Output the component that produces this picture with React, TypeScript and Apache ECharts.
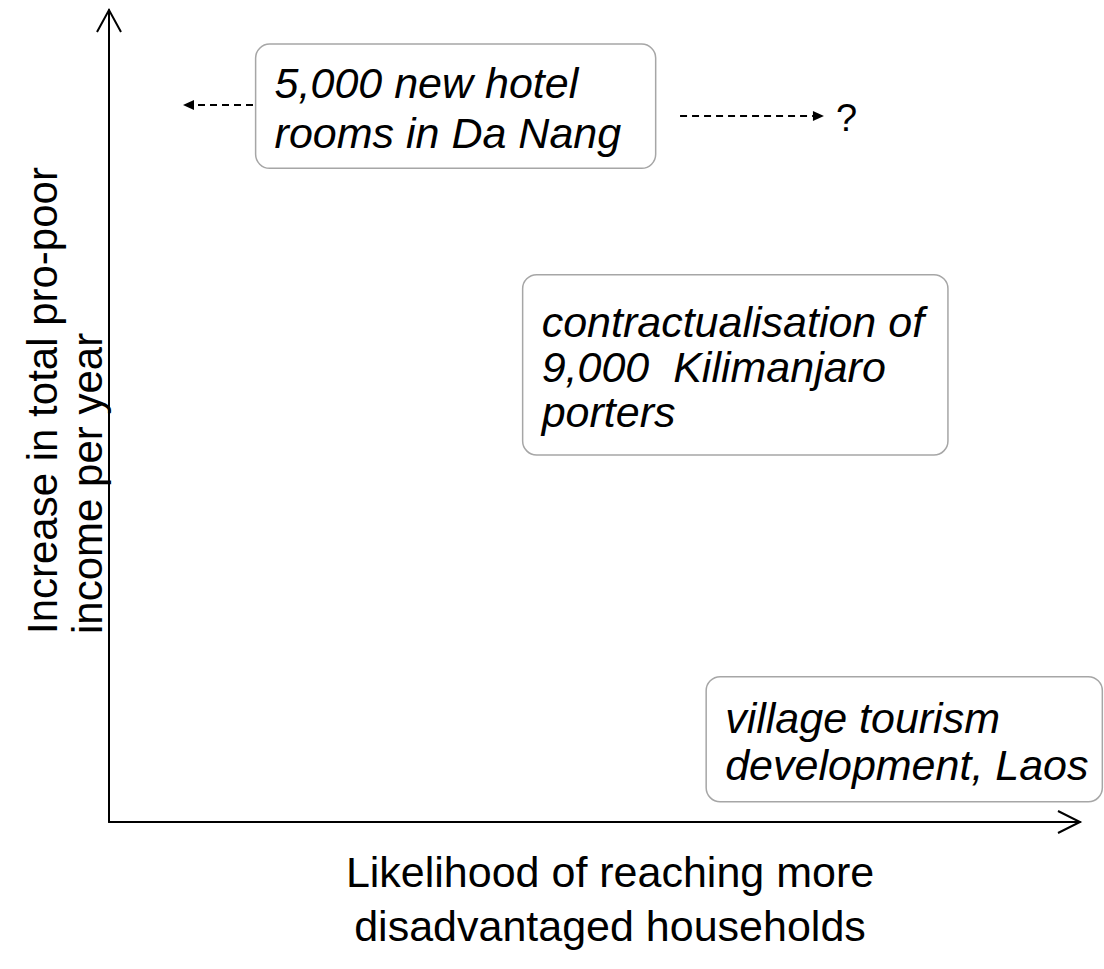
import React, { useEffect, useRef } from "react";
import * as echarts from "echarts";

// ---- data (concept-space values, 0..100 on both axes) ----
const boxLabels = [
  "5,000 new hotel\nrooms in Da Nang",
  "contractualisation of\n9,000  Kilimanjaro\nporters",
  "village tourism\ndevelopment, Laos",
];
const boxLeft = [15.1, 42.6, 61.5];
const boxRight = [56.3, 86.4, 102.3];
const boxTop = [95.8, 67.4, 17.9];
const boxBottom = [80.5, 45.2, 2.5];

const arrowFrom = [14.83, 58.81];
const arrowTo = [7.62, 73.63];
const arrowY = [88.3, 86.95];
const arrowEndLabel = ["", "?"];

const xAxisTitle = "Likelihood of reaching more\ndisadvantaged households";
const yAxisTitle = "Increase in total pro-poor\nincome per year";

const FONT = "'Liberation Sans', Arial, sans-serif";
const BOX_LINE_HEIGHT = [50, 45, 47];

export default function App() {
  const ref = useRef<HTMLDivElement>(null);

  useEffect(() => {
    if (!ref.current) return;
    const chart = echarts.init(ref.current, null, { renderer: "svg" });

    const boxData = boxLabels.map((_, i) => [boxLeft[i], boxRight[i], boxTop[i], boxBottom[i], i]);
    const arrowData = arrowFrom.map((_, i) => [arrowFrom[i], arrowTo[i], arrowY[i], i]);

    const gridLeft = 109;
    const gridTop = 10;
    const gridRight = 24;
    const gridBottom = 147;
    const W = 1104;
    const H = 969;
    const axisY = H - gridBottom;
    const axisXEnd = W - gridRight;

    chart.setOption({
      animation: false,
      backgroundColor: "#ffffff",
      grid: { left: gridLeft, top: gridTop, right: gridRight, bottom: gridBottom, containLabel: false },
      xAxis: {
        type: "value",
        min: 0,
        max: 100,
        axisLine: { show: true, onZero: false, lineStyle: { color: "#000", width: 2 } },
        axisTick: { show: false },
        axisLabel: { show: false },
        splitLine: { show: false },
      },
      yAxis: {
        type: "value",
        min: 0,
        max: 100,
        axisLine: { show: true, onZero: false, lineStyle: { color: "#000", width: 2 } },
        axisTick: { show: false },
        axisLabel: { show: false },
        splitLine: { show: false },
      },
      graphic: [
        {
          type: "polyline",
          shape: { points: [[gridLeft - 12, gridTop + 22], [gridLeft, gridTop], [gridLeft + 12, gridTop + 22]] },
          style: { stroke: "#000", lineWidth: 2, fill: null },
        },
        {
          type: "polyline",
          shape: { points: [[axisXEnd - 22, axisY - 11], [axisXEnd, axisY], [axisXEnd - 22, axisY + 11]] },
          style: { stroke: "#000", lineWidth: 2, fill: null },
        },
        {
          type: "text",
          x: 610,
          y: 899,
          style: {
            text: xAxisTitle,
            fontFamily: FONT,
            fontSize: 43,
            fill: "#000",
            align: "center",
            verticalAlign: "middle",
            lineHeight: 54,
          },
        },
        {
          type: "text",
          x: 65,
          y: 634,
          rotation: Math.PI / 2,
          style: {
            text: yAxisTitle,
            fontFamily: FONT,
            fontSize: 42,
            fill: "#000",
            align: "left",
            verticalAlign: "middle",
            lineHeight: 45,
          },
        },
      ],
      series: [
        {
          type: "custom",
          name: "boxes",
          clip: false,
          silent: true,
          data: boxData,
          renderItem: (params: any, api: any) => {
            const i = api.value(4);
            const p0 = api.coord([api.value(0), api.value(2)]);
            const p1 = api.coord([api.value(1), api.value(3)]);
            const w = p1[0] - p0[0];
            const h = p1[1] - p0[1];
            return {
              type: "group",
              children: [
                {
                  type: "rect",
                  shape: { x: p0[0], y: p0[1], width: w, height: h, r: 14 },
                  style: { fill: "#fff", stroke: "#a6a6a6", lineWidth: 1.5 },
                },
                {
                  type: "text",
                  x: p0[0] + 19,
                  y: p0[1] + h / 2 + 2,
                  style: {
                    text: boxLabels[i],
                    fontFamily: FONT,
                    fontStyle: "italic",
                    fontSize: 43,
                    fill: "#000",
                    align: "left",
                    verticalAlign: "middle",
                    lineHeight: BOX_LINE_HEIGHT[i],
                  },
                },
              ],
            };
          },
        },
        {
          type: "custom",
          name: "arrows",
          clip: false,
          silent: true,
          data: arrowData,
          renderItem: (params: any, api: any) => {
            const i = api.value(3);
            const a = api.coord([api.value(0), api.value(2)]);
            const b = api.coord([api.value(1), api.value(2)]);
            const dir = b[0] > a[0] ? 1 : -1;
            const headLen = 11;
            const headHalf = 5;
            const children: any[] = [
              {
                type: "line",
                shape: { x1: a[0], y1: a[1], x2: b[0] - dir * headLen, y2: b[1] },
                style: { stroke: "#000", lineWidth: 2, lineDash: [7, 5] },
              },
              {
                type: "polygon",
                shape: {
                  points: [
                    [b[0], b[1]],
                    [b[0] - dir * headLen, b[1] - headHalf],
                    [b[0] - dir * headLen, b[1] + headHalf],
                  ],
                },
                style: { fill: "#000" },
              },
            ];
            if (arrowEndLabel[i]) {
              children.push({
                type: "text",
                x: b[0] + 12,
                y: b[1] + 2,
                style: {
                  text: arrowEndLabel[i],
                  fontFamily: FONT,
                  fontSize: 38,
                  fill: "#000",
                  align: "left",
                  verticalAlign: "middle",
                },
              });
            }
            return { type: "group", children };
          },
        },
      ],
    });

    return () => {
      chart.dispose();
    };
  }, []);

  return (
    <div
      ref={ref}
      style={{ position: "fixed", left: 0, top: 0, width: 1104, height: 969, background: "#fff" }}
    />
  );
}
